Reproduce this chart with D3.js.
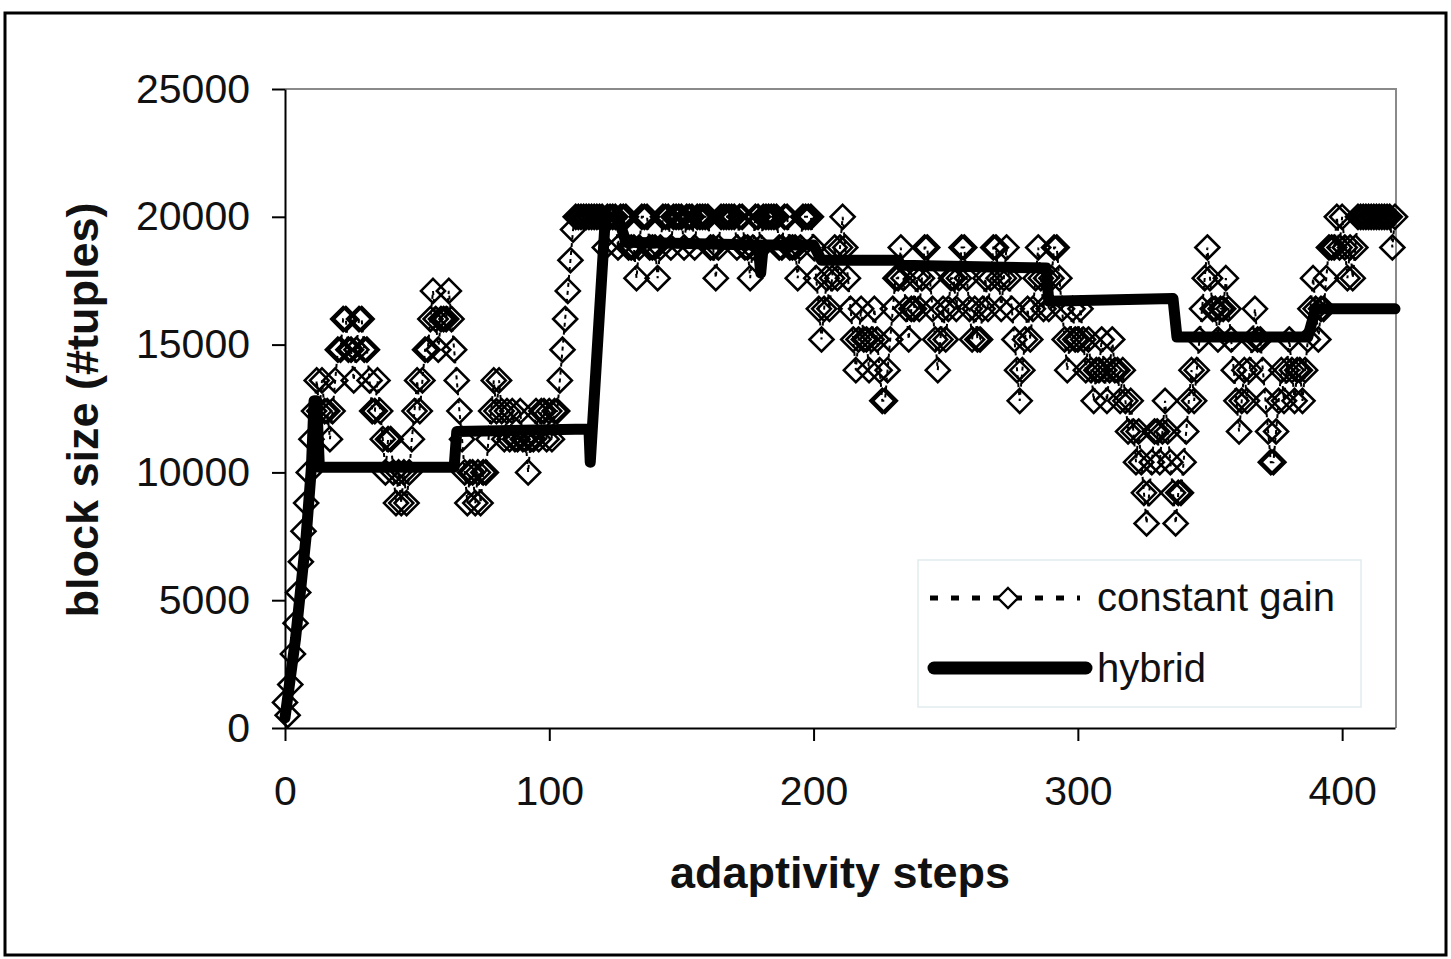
<!DOCTYPE html>
<html>
<head>
<meta charset="utf-8">
<script src="https://cdn.jsdelivr.net/npm/d3@7"></script>
<style>
  body { margin: 0; background: #fff; }
  text { font-family: "Liberation Sans", Arial, sans-serif; fill: #111; }
</style>
</head>
<body>
<div id="chart"></div>
<script>
// block size per adaptivity step (index = step)
const constantGain = [
  1000, 500, 1700, 2900, 4100, 5300, 6500, 7700, 8800, 10000, 11300, 12400,
  13600, 12400, 13600, 12400, 12400, 11300, 12400, 13600, 14800, 14800, 16000, 16000, 14800,
  14800, 13600, 14800, 16000, 16000, 14800, 14800, 13600, 12400, 12400, 13600, 12400, 11300,
  10000, 11300, 11300, 10000, 8800, 10000, 8800, 10000, 8800, 10000, 11300, 12400, 13600,
  // 51-80
  12400, 13600, 14800, 14800, 16000, 17100, 16000, 14800, 16000, 16000, 16000, 17100, 16000,
  14800, 13600, 12400, 11300, 10000, 8800, 10000, 10000, 8800, 10000, 8800, 10000, 10000,
  11300, 12400, 13600, 12400,
  // 81-110
  13600, 12400, 11300, 12400, 11300, 12400, 11300, 11300, 12400, 11300, 11300, 10000, 11300,
  11300, 12400, 11300, 12400, 12400, 11300, 12400, 11300, 12400, 12400, 13600, 14800, 16000,
  17100, 18300, 19500, 20000,
  // 111-140
  20000, 20000, 20000, 20000, 20000, 20000, 20000, 20000, 20000, 20000, 18800, 20000, 20000,
  20000, 20000, 18800, 20000, 20000, 20000, 18800, 18800, 18800, 17600, 18800, 20000, 20000,
  20000, 18800, 18800, 18800,
  // 141-170
  17600, 18800, 20000, 20000, 20000, 18800, 20000, 20000, 20000, 20000, 18800, 20000, 20000,
  20000, 18800, 20000, 20000, 20000, 20000, 20000, 18800, 18800, 17600, 18800, 20000, 20000,
  20000, 20000, 20000, 20000,
  // 171-200
  18800, 20000, 20000, 18800, 18800, 17600, 18800, 20000, 20000, 18800, 20000, 20000, 20000,
  20000, 20000, 20000, 18800, 18800, 20000, 20000, 18800, 18800, 18800, 17600, 18800, 20000,
  20000, 20000, 20000, 18800,
  // 201-230
  17600, 16400, 15200, 16400, 17600, 16400, 17600, 18800, 17600, 18800, 20000, 18800, 17600,
  16400, 15200, 14000, 15200, 16400, 15200, 15200, 14000, 15200, 16400, 15200, 14000, 12800,
  12800, 14000, 15200, 16400,
  // 231-260
  17600, 17600, 18800, 17600, 16400, 15200, 16400, 16400, 17600, 16400, 17600, 18800, 18800,
  17600, 16400, 15200, 14000, 15200, 16400, 15200, 16400, 17600, 17600, 16400, 17600, 18800,
  18800, 17600, 16400, 15200,
  // 261-300
  16400, 15200, 15200, 16400, 17600, 16400, 17600, 18800, 18800, 17600, 16400, 17600, 18800,
  17600, 16400, 15200, 14000, 12800, 14000, 15200, 16400, 15200, 16400, 17600, 18800, 17600,
  16400, 17600, 16400, 17600, 18800, 18800, 17600, 16400, 15200, 14000, 15200, 16400, 15200,
  15200,
  // 301-340
  16400, 15200, 14000, 15200, 14000, 12800, 14000, 14000, 15200, 14000, 12800, 14000, 15200,
  14000, 14000, 12800, 14000, 12800, 11600, 12800, 11600, 10400, 11600, 10400, 9200, 8000,
  9200, 10400, 11600, 11600, 10400, 11600, 12800, 11600, 10400, 9200, 8000, 9200, 9200,
  10400,
  // 341-380
  11600, 12800, 14000, 12800, 14000, 15200, 16400, 17600, 18800, 17600, 16400, 16400, 15200,
  16400, 16400, 17600, 16400, 15200, 14000, 12800, 11600, 12800, 14000, 12800, 14000, 15200,
  16400, 15200, 15200, 14000, 12800, 11600, 10400, 10400, 11600, 12800, 14000, 12800, 14000,
  15200,
  // 381-420
  14000, 12800, 14000, 14000, 12800, 14000, 15200, 16400, 17600, 16400, 15200, 16400, 16400,
  17600, 18800, 18800, 18800, 20000, 18800, 20000, 18800, 17600, 18800, 17600, 18800, 20000,
  20000, 20000, 20000, 20000, 20000, 20000, 20000, 20000, 20000, 20000, 20000, 20000, 18800,
  20000
];

// hybrid: step where the value changes, and the value there
const hybridSteps  = [0, 4, 8, 10, 11, 12, 13, 64, 65, 115, 115.5, 121, 122, 126, 129,
                      179, 180, 181, 200, 203, 232, 233, 288, 289, 336, 337.5, 387, 390, 420];
const hybridValues = [400, 3500, 7500, 10200, 12800, 12800, 10200, 10200, 11600, 11700, 10400, 19600, 20000, 20000, 19000,
                      18900, 17800, 18900, 18900, 18300, 18300, 18100, 18000, 16700, 16800, 15300, 15300, 16400, 16400];

const xTicks = [0, 100, 200, 300, 400];
const yTicks = [0, 5000, 10000, 15000, 20000, 25000];

document.addEventListener('DOMContentLoaded', function() {
    const width = 1451, height = 959;

    const svg = d3.select('#chart').append('svg')
        .attr('width', width)
        .attr('height', height);

    // outer frame
    svg.append('rect')
        .attr('x', 5).attr('y', 13)
        .attr('width', 1441).attr('height', 942)
        .attr('fill', 'none')
        .attr('stroke', '#000')
        .attr('stroke-width', 3);

    const x = d3.scaleLinear().domain([0, 420]).range([285, 1395]);
    const y = d3.scaleLinear().domain([0, 25000]).range([728, 89]);

    // plot frame top / right
    svg.append('path')
        .attr('d', `M285,89H1396V728`)
        .attr('fill', 'none')
        .attr('stroke', '#8a8a8a')
        .attr('stroke-width', 2);

    const yAxis = svg.append('g')
        .attr('transform', 'translate(285,0)')
        .call(d3.axisLeft(y).tickValues(yTicks).tickSize(13).tickSizeOuter(0).tickPadding(22).tickFormat(d3.format('d')));
    const xAxis = svg.append('g')
        .attr('transform', 'translate(0,728)')
        .call(d3.axisBottom(x).tickValues(xTicks).tickSize(13).tickSizeOuter(0).tickPadding(35));
    [xAxis, yAxis].forEach(a => {
        a.selectAll('path, line').attr('stroke', '#000').attr('stroke-width', 2);
        a.selectAll('text').style('font-size', '41px').attr('fill', '#1a1a1a');
    });

    // constant gain: dashed line + hollow diamonds
    const cgLine = d3.line().x((d, i) => x(i)).y(d => y(d));
    svg.append('path')
        .datum(constantGain)
        .attr('d', cgLine)
        .attr('fill', 'none')
        .attr('stroke', '#000')
        .attr('stroke-width', 2)
        .attr('stroke-dasharray', '4,4');

    const diamond = 'M0,-12L12,0L0,12L-12,0Z';
    svg.append('g')
        .selectAll('path')
        .data(constantGain)
        .enter().append('path')
        .attr('d', diamond)
        .attr('transform', (d, i) => `translate(${x(i)},${y(d)})`)
        .attr('fill', 'none')
        .attr('stroke', '#000')
        .attr('stroke-width', 2.6);

    // hybrid
    const hLine = d3.line().x(d => x(d[0])).y(d => y(d[1]));
    svg.append('path')
        .datum(hybridSteps.map((s, i) => [s, hybridValues[i]]))
        .attr('d', hLine)
        .attr('fill', 'none')
        .attr('stroke', '#000')
        .attr('stroke-width', 11)
        .attr('stroke-linejoin', 'round')
        .attr('stroke-linecap', 'round');

    // legend
    const lg = svg.append('g');
    lg.append('rect')
        .attr('x', 918).attr('y', 560)
        .attr('width', 443).attr('height', 147)
        .attr('fill', '#fff')
        .attr('stroke', '#e2ecee')
        .attr('stroke-width', 1.5);
    lg.append('line')
        .attr('x1', 930).attr('x2', 1080).attr('y1', 598).attr('y2', 598)
        .attr('stroke', '#000').attr('stroke-width', 5)
        .attr('stroke-dasharray', '8,13');
    lg.append('path')
        .attr('d', 'M0,-10L10,0L0,10L-10,0Z')
        .attr('transform', 'translate(1008,598)')
        .attr('fill', '#fff')
        .attr('stroke', '#000')
        .attr('stroke-width', 2.4);
    lg.append('text')
        .attr('x', 1097).attr('y', 611)
        .style('font-size', '40px')
        .text('constant gain');
    lg.append('line')
        .attr('x1', 934).attr('x2', 1086).attr('y1', 668).attr('y2', 668)
        .attr('stroke', '#000').attr('stroke-width', 13)
        .attr('stroke-linecap', 'round');
    lg.append('text')
        .attr('x', 1097).attr('y', 682)
        .style('font-size', '40px')
        .text('hybrid');

    // axis titles
    svg.append('text')
        .attr('x', 840).attr('y', 888)
        .attr('text-anchor', 'middle')
        .style('font-size', '45px')
        .style('font-weight', 'bold')
        .text('adaptivity steps');
    svg.append('text')
        .attr('transform', 'translate(98,410) rotate(-90)')
        .attr('text-anchor', 'middle')
        .style('font-size', '45px')
        .style('font-weight', 'bold')
        .text('block size (#tuples)');
});
</script>
</body>
</html>
